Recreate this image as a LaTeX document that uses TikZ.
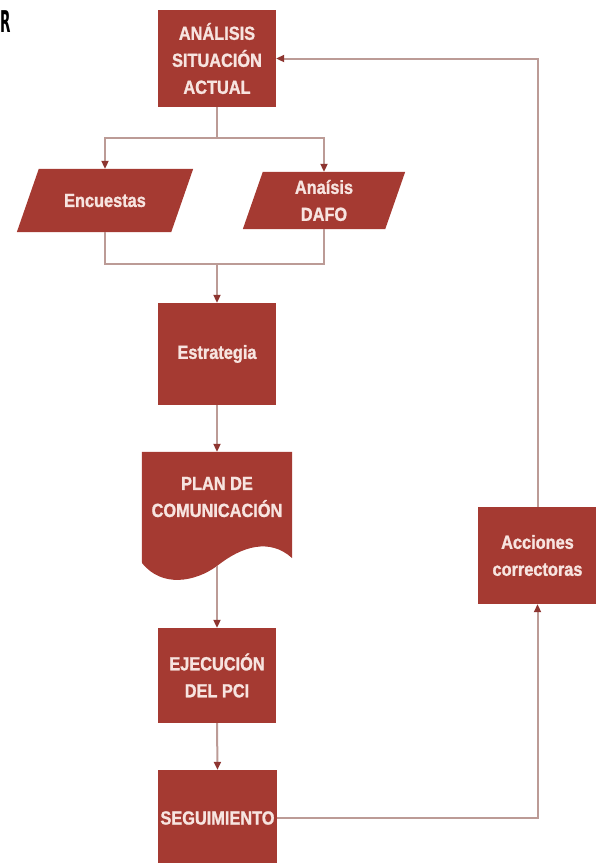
\documentclass[tikz,border=0pt]{standalone}
\usepackage{fontspec}
\setmainfont[FakeStretch=0.86, BoldFeatures={FakeBold=1.2}]{Liberation Sans}
\newfontfamily\headfont{DejaVu Sans}
\usetikzlibrary{arrows.meta,backgrounds,calc}

\definecolor{boxred}{HTML}{A53A32}
\definecolor{boxtext}{HTML}{F7E4E0}
\definecolor{linkgray}{HTML}{BC9B96}
\definecolor{tipred}{HTML}{8E3530}

\tikzset{
  stepbox/.style={fill=boxred, text=boxtext, inner sep=0pt, align=center,
    minimum width=118pt, minimum height=97pt,
    font=\bfseries\fontsize{19}{27}\selectfont},
  textonly/.style={text=boxtext, inner sep=0pt, align=center,
    font=\bfseries\fontsize{19}{27}\selectfont},
  conn/.style={draw=linkgray, line width=2pt},
  arr/.style={conn, -{Triangle[length=8pt,width=7pt,color=tipred]}},
}

\begin{document}
\begin{tikzpicture}[x=1pt,y=-1pt]
  \useasboundingbox (0,0) rectangle (596,863);
  \clip (0,0) rectangle (596,863);

  % fragment of a heading on the left edge
  \node[anchor=base west, inner sep=0pt, xscale=0.45,
        font=\headfont\bfseries\fontsize{30}{30}\selectfont]
    (head) at (0,32) {R};

  % rectangular steps
  \node[stepbox] (top)  at (217,58.5)  {ANÁLISIS\\SITUACIÓN\\ACTUAL};
  \node[stepbox, minimum height=102pt] (estr) at (217,354) {Estrategia};
  \node[stepbox, minimum height=95pt]  (ejec) at (217,675.5) {EJECUCIÓN\\DEL PCI};
  \node[stepbox, minimum width=119pt, minimum height=96pt] (seg) at (217.5,818) {SEGUIMIENTO};
  \node[stepbox, minimum width=119pt] (acc) at (537.5,555.5) {Acciones\\correctoras};

  % data steps (parallelograms) and the document step
  \node[textonly, minimum width=154pt, minimum height=63pt] (enc)  at (105,200.5) {Encuestas};
  \node[textonly, minimum width=142pt, minimum height=57pt] (dafo) at (324,200.5) {Anaísis\\DAFO};
  \node[textonly, minimum width=150pt, minimum height=90pt] (plan) at (217,497) {PLAN DE\\COMUNICACIÓN};
  \coordinate (planout) at (217,566);

  \begin{scope}[on background layer]
    \fill[boxred] ([xshift=11pt]enc.north west) -- ([xshift=11pt]enc.north east)
      -- ([xshift=-11pt]enc.south east) -- ([xshift=-11pt]enc.south west) -- cycle;
    \fill[boxred] ([xshift=10pt]dafo.north west) -- ([xshift=10pt]dafo.north east)
      -- ([xshift=-10pt]dafo.south east) -- ([xshift=-10pt]dafo.south west) -- cycle;
    \fill[boxred] (plan.north west) -- (plan.north east) -- (292,558)
      .. controls (270,538) and (242,546) .. (planout)
      .. controls (195,582) and (162,588) .. (142,563) -- cycle;
  \end{scope}

  % connectors
  \coordinate (split) at (217,138);
  \coordinate (join)  at (217,264);
  \draw[conn] (top.south) -- (split);
  \draw[arr] (split) -| (enc.north);
  \draw[arr] (split) -| (dafo.north);
  \draw[conn] (enc.south) |- (join) -| (dafo.south);
  \draw[arr] (join) -- (estr.north);
  \draw[arr] (estr.south) -- (plan.north);
  \draw[arr] (planout) -- (ejec.north);
  \draw[arr] (ejec.south) -- (seg.north);
  \draw[arr] (seg.east) -| (acc.south);
  \draw[arr] (acc.north) |- (top.east);
\end{tikzpicture}
\end{document}
